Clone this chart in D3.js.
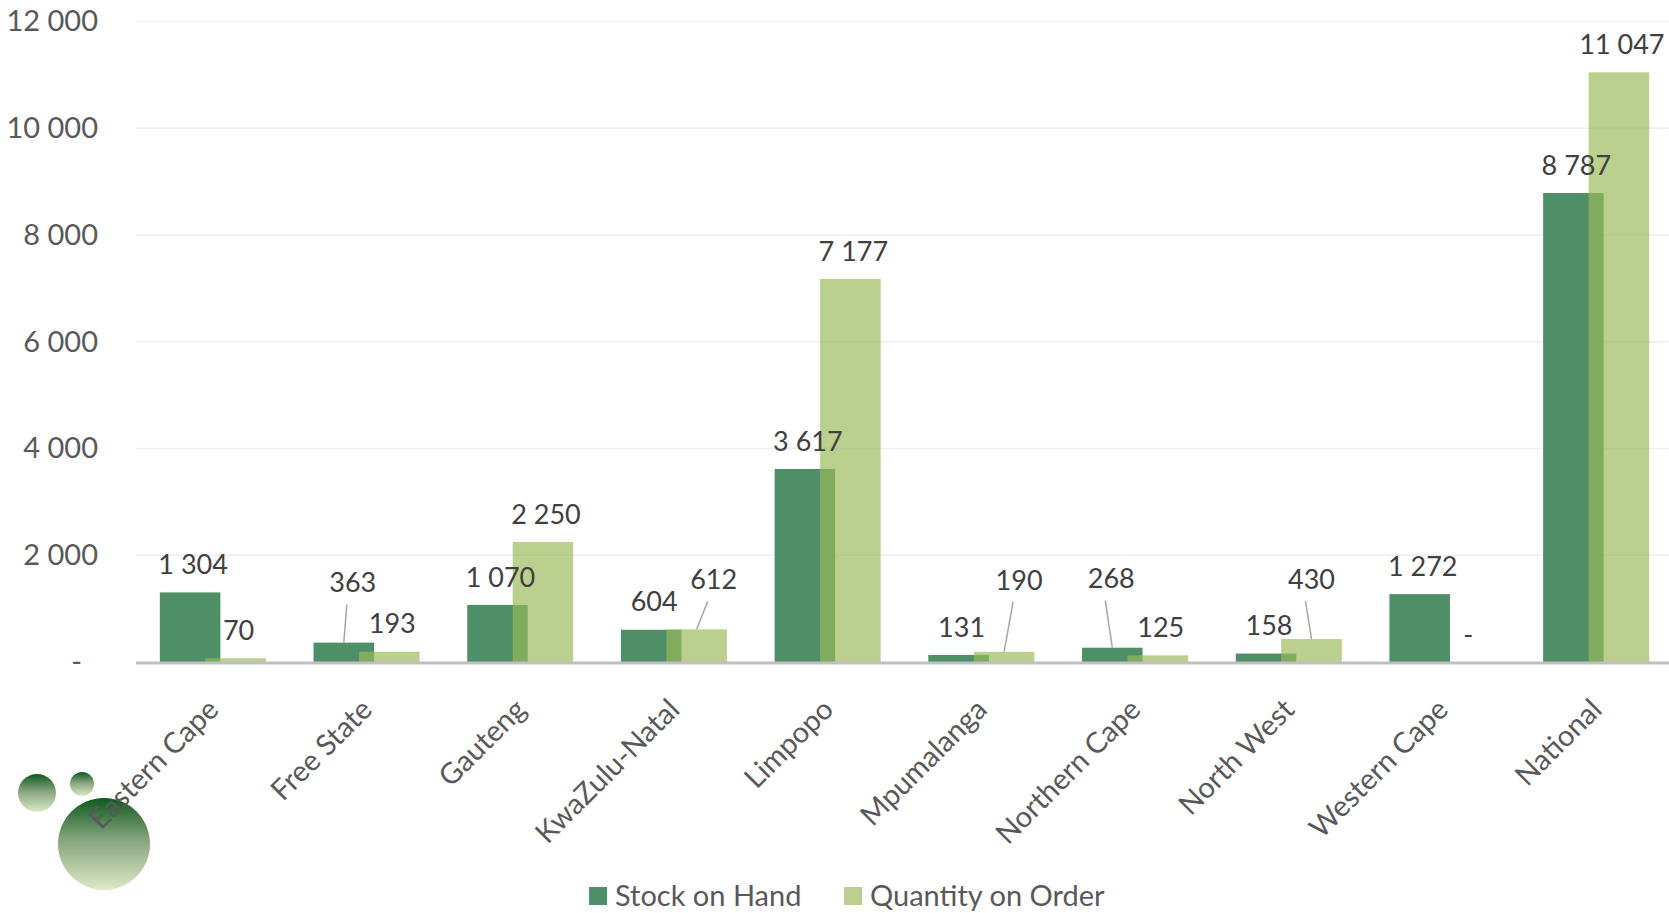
<!DOCTYPE html>
<html>
<head>
<meta charset="utf-8">
<script src="https://cdn.jsdelivr.net/npm/d3@7/dist/d3.min.js"></script>
<style>
  html, body { margin: 0; padding: 0; background: #fff; overflow: hidden; }
  svg { display: block; font-family: Lato, "Open Sans", sans-serif; }
</style>
</head>
<body>
<svg id="chart" width="1669" height="913"></svg>
<script>
// ---- data ----
const categories = ["Eastern Cape", "Free State", "Gauteng", "KwaZulu-Natal", "Limpopo",
  "Mpumalanga", "Northern Cape", "North West", "Western Cape", "National"];
const stockOnHand = [1304, 363, 1070, 604, 3617, 131, 268, 158, 1272, 8787];
const quantityOnOrder = [70, 193, 2250, 612, 7177, 190, 125, 430, 0, 11047];
const yTicks = [0, 2000, 4000, 6000, 8000, 10000, 12000];
const seriesNames = ["Stock on Hand", "Quantity on Order"];

// manually moved data labels (series index, category index, dx, dy)
const movedLabels = [
  [0, 1, 6, -32],
  [1, 3, 14, -22],
  [1, 5, 12, -44],
  [0, 6, -4, -41],
  [1, 7, -3, -32]
];

// ---- layout ----
const W = 1669, H = 913;
const svg = d3.select("#chart");
const x = d3.scaleBand().domain(categories).range([136, 1673]).padding(0);
const y = d3.scaleLinear().domain([0, 12000]).range([662, 21.5]);
const bw = x.bandwidth();
const barW = bw * 0.394;
const groupW = bw * 0.69;
const colors = ["#4E8F68", "rgb(155,185,88)"];
const opac = [1, 0.68];
const fmt = v => v === 0 ? "-" : d3.format(",")(v).replace(/,/g, " ");

const barX = (si, ci) => {
  const c = x(categories[ci]) + bw / 2;
  return si === 0 ? c - groupW / 2 : c + groupW / 2 - barW;
};

// gridlines
svg.append("g").selectAll("line").data(yTicks.filter(t => t > 0)).join("line")
  .attr("x1", 136).attr("x2", W)
  .attr("y1", d => y(d)).attr("y2", d => y(d))
  .attr("stroke", "#EEEEEE").attr("stroke-width", 1.5);

// y axis labels
const yAxis = d3.axisLeft(y).tickValues(yTicks).tickSize(0).tickPadding(0)
  .tickFormat(d => fmt(d));
const yg = svg.append("g").attr("transform", "translate(98,0)").call(yAxis);
yg.select(".domain").remove();
yg.selectAll("text").attr("font-size", 29).attr("fill", "#595959")
  .attr("font-family", "Lato, sans-serif")
  .attr("dx", d => d === 0 ? -16 : 0);

// bars
const series = [stockOnHand, quantityOnOrder];
series.forEach((vals, si) => {
  svg.append("g").selectAll("rect").data(vals).join("rect")
    .attr("x", (d, i) => barX(si, i))
    .attr("width", barW)
    .attr("y", d => y(d))
    .attr("height", d => y(0) - y(d))
    .attr("fill", colors[si])
    .attr("fill-opacity", opac[si]);
});

// baseline
svg.append("line").attr("x1", 136).attr("x2", W)
  .attr("y1", y(0) + 1).attr("y2", y(0) + 1)
  .attr("stroke", "#BFBFBF").attr("stroke-width", 3);

// decorative bubbles
const defs = svg.append("defs");
const grad = defs.append("linearGradient").attr("id", "bub").attr("x1", 0).attr("y1", 0).attr("x2", 0).attr("y2", 1);
grad.append("stop").attr("offset", "0%").attr("stop-color", "#0E5A1E");
grad.append("stop").attr("offset", "45%").attr("stop-color", "#86A47E");
grad.append("stop").attr("offset", "100%").attr("stop-color", "#DDE9C6");
const bubbles = [[37, 793, 19], [82, 784, 12], [104, 844, 46]];
svg.append("g").selectAll("circle").data(bubbles).join("circle")
  .attr("cx", d => d[0]).attr("cy", d => d[1]).attr("r", d => d[2])
  .attr("fill", "url(#bub)");

// category labels
svg.append("g").selectAll("text").data(categories).join("text")
  .attr("transform", d => `translate(${x(d) + bw / 2 - 7},${y(0) + 35}) rotate(-45)`)
  .attr("text-anchor", "end")
  .attr("dy", "0.7em")
  .attr("font-size", 29).attr("fill", "#595959")
  .text(d => d);

// data labels
const labels = [];
series.forEach((vals, si) => vals.forEach((v, ci) => {
  const cx = barX(si, ci) + barW / 2;
  const top = y(v);
  let lx = cx + 3, ly = top - 28, moved = false;
  movedLabels.forEach(m => {
    if (m[0] === si && m[1] === ci) { lx += m[2]; ly += m[3]; moved = true; }
  });
  labels.push({ v, cx, top, lx, ly, moved });
}));

svg.append("g").selectAll("line").data(labels.filter(d => d.moved)).join("line")
  .attr("x1", d => d.lx - 6).attr("y1", d => d.ly + 22)
  .attr("x2", d => d.cx).attr("y2", d => d.top)
  .attr("stroke", "#A6A6A6").attr("stroke-width", 1.5);

svg.append("g").selectAll("text").data(labels).join("text")
  .attr("x", d => d.lx).attr("y", d => d.ly)
  .attr("dy", "0.36em")
  .attr("text-anchor", "middle")
  .attr("font-size", 27).attr("fill", "#404040")
  .text(d => fmt(d.v));

// legend
const legendItems = [[589, 0], [844, 1]];
const lg = svg.append("g");
legendItems.forEach(([lx, si]) => {
  lg.append("rect").attr("x", lx).attr("y", 887).attr("width", 18).attr("height", 18)
    .attr("fill", colors[si]).attr("fill-opacity", opac[si]);
  lg.append("text").attr("x", lx + 26).attr("y", 896).attr("dy", "0.36em")
    .attr("font-size", 29).attr("fill", "#595959").text(seriesNames[si]);
});
</script>
</body>
</html>
